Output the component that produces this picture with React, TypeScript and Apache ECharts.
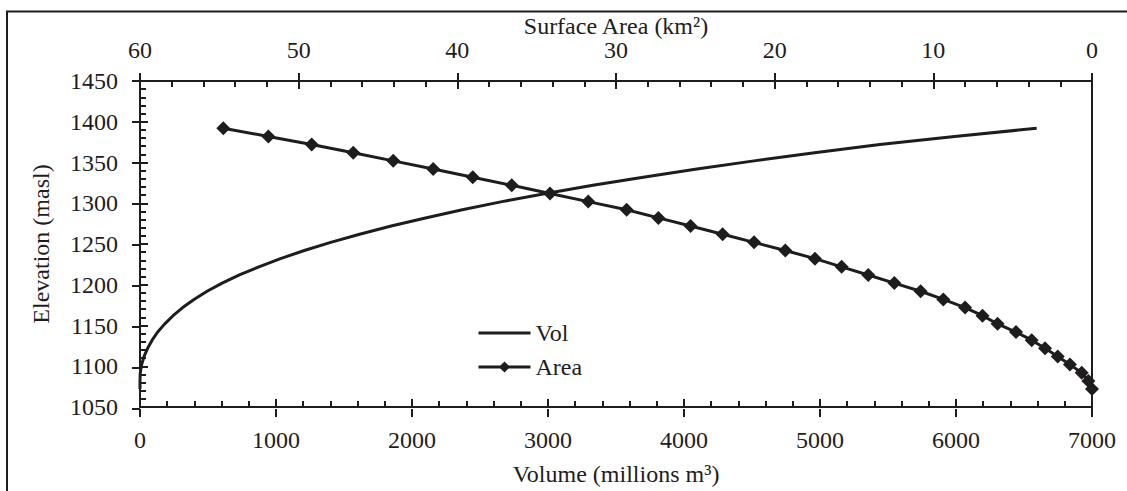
import React, { useEffect, useRef } from "react";
import * as echarts from "echarts";

// Elevation steps (masl) shared by both curves
const ELEVATION = [1072, 1082, 1092, 1102, 1112, 1122, 1132, 1142, 1152, 1162, 1172, 1182, 1192, 1202, 1212, 1222, 1232, 1242, 1252, 1262, 1272, 1282, 1292, 1302, 1312, 1322, 1332, 1342, 1352, 1362, 1372, 1382, 1392];
// Storage volume (millions m3) at each elevation
const VOLUME = [0, 0, 2, 12, 30, 56, 89, 130, 182, 243, 314, 397, 493, 604, 731, 874, 1033, 1208, 1402, 1615, 1847, 2099, 2370, 2662, 2985, 3330, 3700, 4095, 4515, 4960, 5440, 5990, 6593];
// Surface area (km2) at each elevation
const AREA = [0, 0.23, 0.65, 1.39, 2.16, 2.96, 3.8, 4.79, 5.95, 6.9, 8.0, 9.37, 10.8, 12.46, 14.1, 15.78, 17.46, 19.33, 21.3, 23.28, 25.3, 27.33, 29.33, 31.75, 34.16, 36.57, 39.03, 41.52, 44.04, 46.56, 49.18, 51.91, 54.75];

const SERIES_NAMES = ["Vol", "Area"];
const VOLUME_RANGE = [0, 7000, 1000];
const AREA_RANGE = [0, 60, 10];
const ELEV_RANGE = [1050, 1450, 50];

const FONT = "'Liberation Serif', 'Times New Roman', serif";
const INK = "#1e1c1d";

export default function App() {
  const ref = useRef<HTMLDivElement>(null);

  useEffect(() => {
    if (!ref.current) return;
    const chart = echarts.init(ref.current, null, { renderer: "svg" });
    const txt = { fontFamily: FONT, fontSize: 24, color: INK };
    const line = { color: INK, width: 2 };
    const gridBox = { left: 140, top: 81, width: 952, height: 328 };
    const plain = (v: number) => String(v);

    const mainAxisCommon = (range: number[]) => ({
      type: "value",
      min: range[0],
      max: range[1],
      interval: range[2],
      nameMoveOverlap: false,
      axisLine: { show: true, onZero: false, lineStyle: line },
      axisTick: { show: true, inside: true, length: 8, lineStyle: line },
      minorTick: { show: true, splitNumber: 5, length: 6, lineStyle: line },
      splitLine: { show: false },
      minorSplitLine: { show: false },
    });
    const dupAxis = (range: number[]) => ({
      type: "value",
      min: range[0],
      max: range[1],
      interval: range[2],
      axisLine: { show: false, onZero: false },
      axisTick: { show: true, inside: false, length: 8, lineStyle: line },
      axisLabel: { show: false },
      splitLine: { show: false },
    });

    chart.setOption({
      animation: false,
      backgroundColor: "#ffffff",
      grid: [
        { ...gridBox, containLabel: false },
        { ...gridBox, containLabel: false },
      ],
      xAxis: [
        {
          ...mainAxisCommon(VOLUME_RANGE),
          gridIndex: 0,
          position: "bottom",
          axisLabel: { ...txt, margin: 21, formatter: plain },
          name: "Volume (millions m³)",
          nameLocation: "middle",
          nameGap: 55,
          nameTextStyle: txt,
        },
        {
          ...mainAxisCommon(AREA_RANGE),
          gridIndex: 0,
          position: "top",
          inverse: true,
          axisLabel: { ...txt, margin: 19, formatter: plain },
          name: "Surface Area (km²)",
          nameLocation: "middle",
          nameGap: 43,
          nameTextStyle: txt,
        },
        { ...dupAxis(VOLUME_RANGE), gridIndex: 1, position: "bottom" },
        { ...dupAxis(AREA_RANGE), gridIndex: 1, position: "top", inverse: true },
      ],
      yAxis: [
        {
          ...mainAxisCommon(ELEV_RANGE),
          gridIndex: 0,
          position: "left",
          axisLabel: { ...txt, margin: 22, formatter: plain },
          name: "Elevation (masl)",
          nameLocation: "middle",
          nameGap: 87,
          nameTextStyle: txt,
        },
        { ...dupAxis(ELEV_RANGE), gridIndex: 1, position: "left" },
        {
          type: "value",
          gridIndex: 1,
          position: "right",
          min: ELEV_RANGE[0],
          max: ELEV_RANGE[1],
          axisLine: { show: true, onZero: false, lineStyle: line },
          axisTick: { show: false },
          axisLabel: { show: false },
          splitLine: { show: false },
        },
      ],
      legend: {
        data: [
          { name: SERIES_NAMES[0], icon: "path://M0 0H52V3H0Z" },
          { name: SERIES_NAMES[1] },
        ],
        orient: "vertical",
        left: 472,
        top: 316,
        itemWidth: 52,
        itemHeight: 14,
        itemGap: 10,
        textStyle: txt,
        lineStyle: { width: 3 },
      },
      graphic: [
        {
          type: "polyline",
          shape: { points: [[7, 520], [7, 11.5], [1140, 11.5]] },
          style: { stroke: INK, lineWidth: 2, fill: "none" },
          silent: true,
        },
      ],
      series: [
        {
          name: SERIES_NAMES[0],
          type: "line",
          xAxisIndex: 0,
          yAxisIndex: 0,
          data: ELEVATION.map((e, i) => [VOLUME[i], e]),
          symbol: "none",
          lineStyle: { color: INK, width: 3 },
          itemStyle: { color: INK },
          z: 3,
        },
        {
          name: SERIES_NAMES[1],
          type: "line",
          xAxisIndex: 1,
          yAxisIndex: 0,
          data: ELEVATION.map((e, i) => [AREA[i], e]),
          symbol: "diamond",
          symbolSize: 14,
          lineStyle: { color: INK, width: 3 },
          itemStyle: { color: INK },
          z: 4,
        },
      ],
    });
    return () => chart.dispose();
  }, []);

  return (
    <div
      ref={ref}
      style={{ position: "absolute", left: 0, top: 0, width: 1127, height: 491 }}
    />
  );
}
